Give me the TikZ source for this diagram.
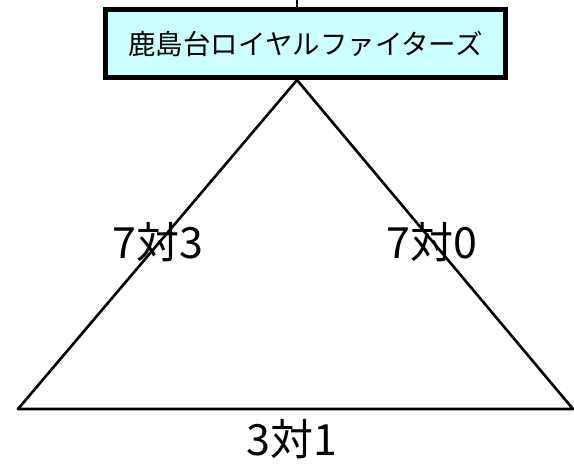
\documentclass[tikz,border=0pt]{standalone}
\usepackage{fontspec}
\setmainfont{Noto Sans CJK JP}
\definecolor{boxfill}{RGB}{204,255,255}
\tikzset{
  teambox/.style={draw=black, line width=5pt, fill=boxfill, inner sep=0pt,
    minimum width=400pt, minimum height=68pt, font=\fontsize{27.5}{30}\selectfont},
  score/.style={inner sep=0pt, font=\fontsize{43}{45}\selectfont},
  edge/.style={line width=2.6pt, line cap=round, line join=round}
}
\begin{document}
\begin{tikzpicture}[x=1pt,y=-1pt]
\useasboundingbox (0,0) rectangle (574,464);
\coordinate (top) at (297,0);
\node[teambox] (team) at (305.5,43.5) {鹿島台ロイヤルファイターズ};
\coordinate (apex) at (297,80);
\coordinate (bl) at (18,409);
\coordinate (br) at (573,409);
\draw[line width=2pt] (top) -- (top |- team.north);
\draw[edge] (apex) -- (bl) -- (br) -- cycle;
\node[score] (l1) at (158,242) {7対3};
\node[score] (l2) at (432,242) {7対0};
\node[score] (l3) at (292,439) {3対1};
\end{tikzpicture}
\end{document}
